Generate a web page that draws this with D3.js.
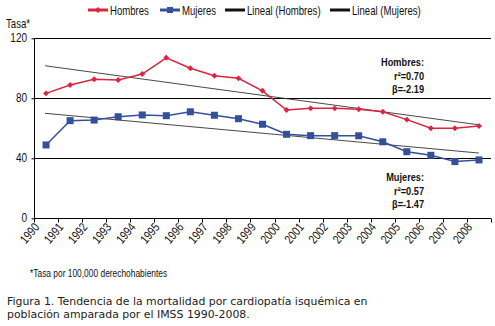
<!DOCTYPE html>
<html lang="es">
    <head>
        <meta charset="utf-8">
        <title>Tendencia de la mortalidad</title>
        <script src="https://d3js.org/d3.v7.min.js"></script>
        <style type="text/css">
            body { margin: 0; background: #fff; }
            text.cond { font-family: "Liberation Sans", Arial, sans-serif; fill: #111; }
            .axis path, .axis line { stroke: #000; }
        </style>
    </head>
    <body>
        <script type="text/javascript">

            //consts
            const w = 495;
            const h = 326;
            const squeeze = 0.8; // fake a condensed face

            //data
            const years = ["1990","1991","1992","1993","1994","1995","1996","1997","1998","1999",
                           "2000","2001","2002","2003","2004","2005","2006","2007","2008"];
            const hombres = [83.3, 88.9, 92.7, 92.2, 96.2, 107, 100, 95, 93.3, 85,
                             72.2, 73.3, 73.3, 72.7, 71, 65.8, 60, 60, 61.5];
            const mujeres = [48.9, 65.1, 65.5, 67.7, 68.9, 68.4, 71, 68.7, 66.4, 62.7,
                             56, 55.1, 55.1, 55, 51, 44.4, 42, 37.8, 38.9];
            const trendHombres = [101.7, 62.3];   // first and last year
            const trendMujeres = [70, 43.5];
            const yTicks = [0, 40, 80, 120];

            const red = "#d9253d";
            const blue = "#34509c";

            //scales
            const xScale = d3.scaleBand()
                             .domain(years)
                             .range([34, 491]);

            const yScale = d3.scaleLinear()
                             .domain([0, 120])
                             .range([218.3, 38.3]);

            const cx = d => xScale(d) + xScale.bandwidth() / 2;

            //SVG
            const svg = d3.select("body")
                          .append("svg")
                          .attr("width", w)
                          .attr("height", h);

            // condensed text helper
            function condText(parent, x, y, str, size, opts = {}) {
                return parent.append("text")
                    .attr("class", "cond")
                    .attr("transform", "translate(" + x + "," + y + ")" + (opts.rotate ? " rotate(" + opts.rotate + ")" : "") + " scale(" + squeeze + ",1)")
                    .attr("text-anchor", opts.anchor || "start")
                    .style("font-size", size + "px")
                    .style("font-weight", opts.bold ? "bold" : "normal")
                    .text(str);
            }

            //gridlines
            svg.append("g")
               .selectAll("line")
               .data(yTicks.filter(d => d > 0))
               .enter()
               .append("line")
               .attr("x1", 34)
               .attr("x2", 491)
               .attr("y1", d => Math.round(yScale(d)) + 0.5)
               .attr("y2", d => Math.round(yScale(d)) + 0.5)
               .attr("stroke", "#000")
               .attr("stroke-width", 1);

            //left axis
            const leftAxis = d3.axisLeft(yScale)
                               .tickValues(yTicks)
                               .tickSize(3)
                               .tickFormat("");

            svg.append("g")
               .attr("class", "axis")
               .attr("transform", "translate(34.5,0)")
               .call(leftAxis)
               .call(g => g.select(".domain").remove());

            yTicks.forEach(t => condText(svg, 27, yScale(t) + 4, String(t), 12.5, {anchor: "end"}));

            svg.append("line")
               .attr("x1", 34.5).attr("x2", 34.5)
               .attr("y1", yScale(120)).attr("y2", yScale(0))
               .attr("stroke", "#000");

            //bottom axis - ticks at band starts
            const xTickScale = d3.scaleLinear()
                                 .domain([0, years.length])
                                 .range([34, 491]);

            const xg = svg.append("g")
                          .attr("class", "axis")
                          .attr("transform", "translate(0," + (Math.round(yScale(0)) + 0.5) + ")");

            xg.append("line")
              .attr("x1", 34).attr("x2", 491)
              .attr("stroke", "#000");

            xg.selectAll("line.tick")
              .data(d3.range(years.length + 1))
              .enter()
              .append("line")
              .attr("class", "tick")
              .attr("x1", d => Math.round(xTickScale(d)) + 0.5)
              .attr("x2", d => Math.round(xTickScale(d)) + 0.5)
              .attr("y1", 0).attr("y2", 4)
              .attr("stroke", "#000");

            years.forEach(y => condText(xg, xScale(y) + 6, 9, y, 12.5, {anchor: "end", rotate: -50}));

            //trend lines
            const trends = [trendHombres, trendMujeres];
            svg.append("g")
               .selectAll("line")
               .data(trends)
               .enter()
               .append("line")
               .attr("x1", cx(years[0]) - 1)
               .attr("x2", cx(years[years.length - 1]))
               .attr("y1", d => yScale(d[0]))
               .attr("y2", d => yScale(d[1]))
               .attr("stroke", "#333")
               .attr("stroke-width", 0.9);

            //series lines
            const line = d3.line()
                           .x((d, i) => cx(years[i]))
                           .y(d => yScale(d));

            svg.append("path")
               .datum(mujeres)
               .attr("d", line)
               .attr("fill", "none")
               .attr("stroke", blue)
               .attr("stroke-width", 1.5);

            svg.append("path")
               .datum(hombres)
               .attr("d", line)
               .attr("fill", "none")
               .attr("stroke", red)
               .attr("stroke-width", 1.5);

            //markers
            svg.append("g")
               .selectAll("rect")
               .data(mujeres)
               .enter()
               .append("rect")
               .attr("x", (d, i) => cx(years[i]) - 3.5)
               .attr("y", d => yScale(d) - 3.5)
               .attr("width", 7)
               .attr("height", 7)
               .attr("fill", blue);

            svg.append("g")
               .selectAll("path")
               .data(hombres)
               .enter()
               .append("path")
               .attr("transform", (d, i) => "translate(" + cx(years[i]) + "," + yScale(d) + ")")
               .attr("d", d3.symbol().type(d3.symbolDiamond2).size(22))
               .attr("fill", red);

            //legend
            const legend = [
                {label: "Hombres", color: red, x: 88, mark: "diamond"},
                {label: "Mujeres", color: blue, x: 160, mark: "square"},
                {label: "Lineal (Hombres)", color: "#111", x: 225, mark: null},
                {label: "Lineal (Mujeres)", color: "#111", x: 330, mark: null}
            ];

            legend.forEach(d => {
                const g = svg.append("g").attr("transform", "translate(" + d.x + ",10)");
                g.append("rect")
                 .attr("x", 0).attr("y", -1.5)
                 .attr("width", 20).attr("height", 3)
                 .attr("fill", d.color);
                if (d.mark === "square") {
                    g.append("rect")
                     .attr("x", 7).attr("y", -3)
                     .attr("width", 6).attr("height", 6)
                     .attr("fill", d.color);
                }
                if (d.mark === "diamond") {
                    g.append("path")
                     .attr("transform", "translate(10,0)")
                     .attr("d", d3.symbol().type(d3.symbolDiamond2).size(22))
                     .attr("fill", d.color);
                }
                condText(g, 22, 4.5, d.label, 12);
            });

            //y title
            condText(svg, 6, 28, "Tasa*", 12);

            //annotations
            const notes = [
                {lines: ["Hombres:", "r²=0.70", "β=-2.19"], y: 66},
                {lines: ["Mujeres:", "r²=0.57", "β=-1.47"], y: 181}
            ];

            notes.forEach(n => {
                n.lines.forEach((l, i) => condText(svg, 424, n.y + i * 13.5, l, 11.5, {anchor: "end", bold: true}));
            });

            //footnote
            condText(svg, 30, 277, "*Tasa por 100,000 derechohabientes", 10.5);

            //caption
            const caption = ["Figura 1. Tendencia de la mortalidad por cardiopatía isquémica en",
                             "población amparada por el IMSS 1990-2008."];
            svg.append("g")
               .selectAll("text")
               .data(caption)
               .enter()
               .append("text")
               .attr("x", 7)
               .attr("y", (d, i) => 305 + i * 13)
               .style("font-family", "'DejaVu Sans', sans-serif")
               .style("font-size", "10.9px")
               .attr("fill", "#222")
               .text(d => d);

        </script>
    </body>
</html>
